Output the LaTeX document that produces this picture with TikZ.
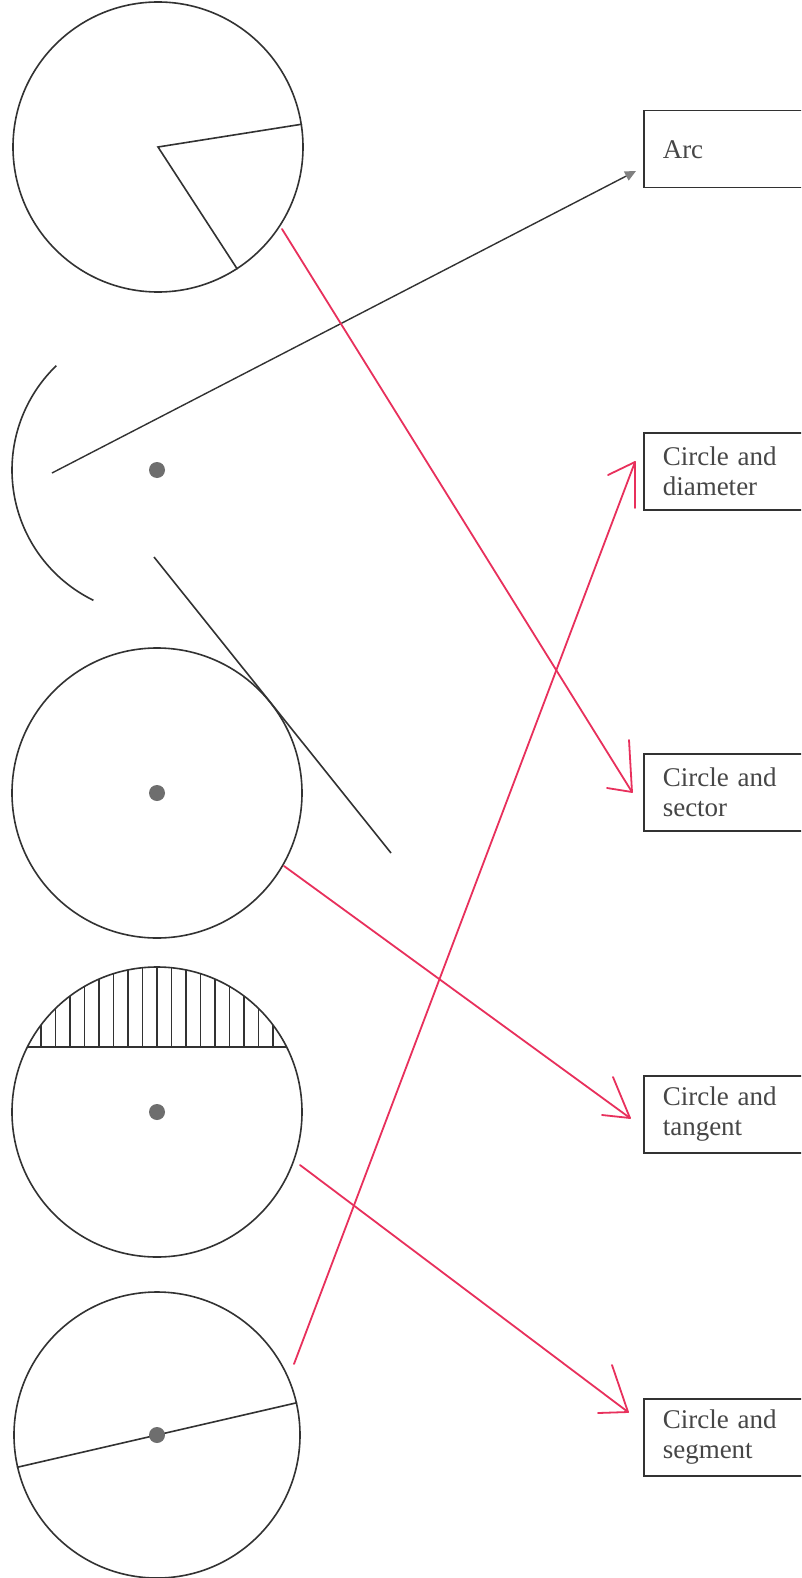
\documentclass[tikz,border=0pt]{standalone}
\usepackage{fontspec}
\setmainfont{Liberation Serif}
\usetikzlibrary{arrows.meta,calc}
\definecolor{ink}{RGB}{50,50,50}
\definecolor{txt}{RGB}{70,70,70}
\definecolor{pen}{RGB}{232,48,92}
\definecolor{dotgray}{RGB}{110,110,110}
\begin{document}
\begin{tikzpicture}[x=1pt,y=-1pt,
  shapeline/.style={draw=ink, line width=1.6pt},
  disc/.style={circle, fill=dotgray, inner sep=0pt, minimum size=16pt},
  geo/.style={circle, draw=ink, line width=1.6pt, inner sep=0pt, minimum size=290pt},
  labelbox/.style={draw=ink, line width=1.5pt, anchor=north west, minimum height=77pt,
    text width=160pt, inner xsep=19pt, align=left, text=txt, font=\fontsize{27}{30}\selectfont},
  redarrow/.style={draw=pen, line width=1.8pt, line cap=round, line join=round},
  blackarrow/.style={draw=ink, line width=1.4pt,
    -{Triangle[length=11pt,width=10pt,color=gray]}}
]
\useasboundingbox (0,0) rectangle (801,1578);
\clip (0,0) rectangle (801,1578);
\fill[white] (0,0) rectangle (801,1578);

% circle 1 with sector
\node[geo] (c1) at (158,147) {};
\draw[shapeline] (c1.9.7) -- (c1.center) -- (c1.-57.4);

% circle 2: arc with centre
\draw[shapeline] plot[domain=116:226, samples=80, smooth] ({157+145*cos(\x)},{470+145*sin(\x)});
\node[disc] (c2) at (157,470) {};

% circle 3 with tangent
\node[geo] (c3) at (157,793) {};
\node[disc] (d3) at (157,793) {};
\coordinate (t1) at (154,557);
\coordinate (t2) at (391,853);
\draw[shapeline] (t1) -- (t2);

% circle 4 with hatched segment
\node[geo] (c4) at (157,1112) {};
\node[disc] (d4) at (157,1112) {};
\begin{scope}
  \clip (c4.center) circle[radius=145pt];
  \draw[shapeline] (0,1047) -- (320,1047);
  \foreach \k in {-8,...,8}
    \draw[shapeline] ({157+14.5*\k},1047) -- ++(0,-100);
\end{scope}

% circle 5 with diameter
\node[geo, minimum size=286pt] (c5) at (157,1435) {};
\draw[shapeline] (c5.193.7) -- (c5.13.7);
\node[disc] (d5) at (157,1435) {};

% label boxes
\node[labelbox] (barc) at (643,110) {Arc};
\node[labelbox] (bdia) at (643,432) {Circle and\\diameter};
\node[labelbox] (bsec) at (643,753) {Circle and\\sector};
\node[labelbox] (btan) at (643,1075) {Circle and\\tangent};
\node[labelbox] (bseg) at (643,1398) {Circle and\\segment};

% black printed arrow
\coordinate (a0) at (52,473);
\coordinate (a1) at (636,171);
\draw[blackarrow] (a0) -- (a1);

% red hand-drawn arrows
\coordinate (s1) at (282,229);  \coordinate (e1) at (632,792);
\coordinate (s2) at (284,866);  \coordinate (e2) at (630,1118);
\coordinate (s3) at (300,1165); \coordinate (e3) at (628,1412);
\coordinate (s4) at (294,1364); \coordinate (e4) at (635,462);

\draw[redarrow] (s1) -- (e1);
\draw[redarrow] ($(e1)+(-3,-52)$) -- (e1) -- ($(e1)+(-25,-4)$);
\draw[redarrow] (s2) -- (e2);
\draw[redarrow] ($(e2)+(-17,-41)$) -- (e2) -- ($(e2)+(-28,-3)$);
\draw[redarrow] (s3) -- (e3);
\draw[redarrow] ($(e3)+(-16,-47)$) -- (e3) -- ($(e3)+(-30,1)$);
\draw[redarrow] (s4) -- (e4);
\draw[redarrow] ($(e4)+(-27,13)$) -- (e4) -- ($(e4)+(0,46)$);
\end{tikzpicture}
\end{document}
